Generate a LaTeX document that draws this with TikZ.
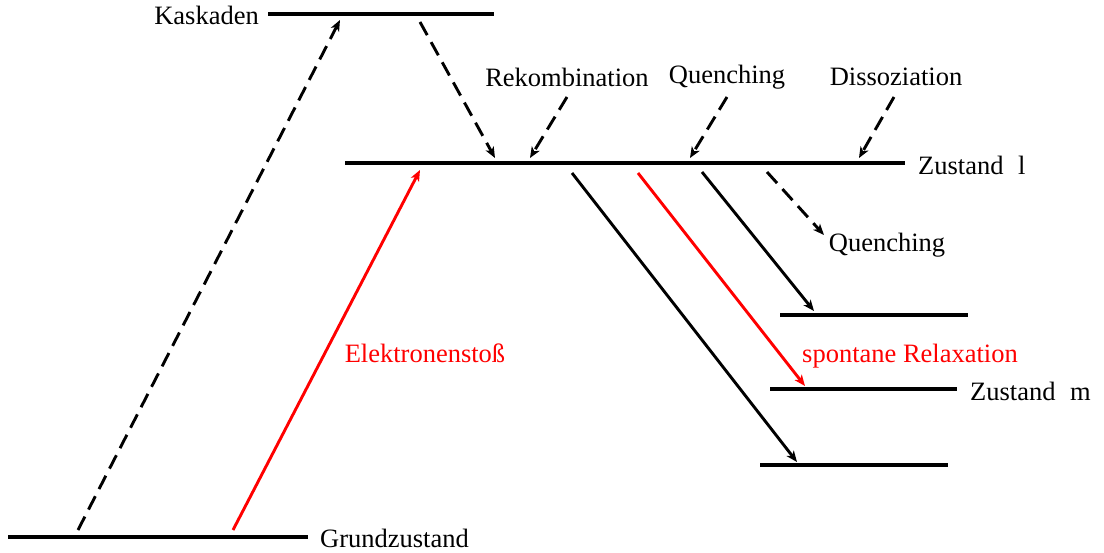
\documentclass[tikz,border=0pt]{standalone}
\usepackage{fontspec}
\setmainfont{Liberation Serif}
\usetikzlibrary{arrows.meta}
\definecolor{lred}{RGB}{255,0,0}
\tikzset{
  level/.style={line width=3.4pt},
  trans/.style={line width=2.9pt,-{Stealth[length=11pt,width=9pt,inset=3pt]}},
  dsh/.style={trans,dash pattern=on 15pt off 8pt},
  lbl/.style={inner sep=0pt,font=\fontsize{26.5}{30}\selectfont},
}
\begin{document}
\begin{tikzpicture}[x=1pt,y=-1pt]
\useasboundingbox (0,0) rectangle (1104,553);
% levels
\draw[level] (268,14) -- (494,14);
\draw[level] (345,163) -- (905,163);
\draw[level] (780,315) -- (968,315);
\draw[level] (770,389) -- (957,389);
\draw[level] (760,465) -- (948,465);
\draw[level] (8,537) -- (308,537);
% labels
\node[lbl,anchor=east] (kas) at (259,15) {Kaskaden};
\node[lbl,anchor=west] (zl) at (918,165) {Zustand\hspace{0.55em}l};
\node[lbl,anchor=west] (zm) at (970,391) {Zustand\hspace{0.55em}m};
\node[lbl,anchor=west] (gz) at (320,538) {Grundzustand};
\node[lbl] (rek) at (567,77) {Rekombination};
\node[lbl] (que1) at (727,77) {Quenching};
\node[lbl] (dis) at (896,77) {Dissoziation};
\node[lbl] (que2) at (887,245) {Quenching};
\node[lbl,text=lred] (el) at (425,353) {Elektronenstoß};
\node[lbl,text=lred] (sr) at (910,356) {spontane Relaxation};
% endpoints
\coordinate (a1) at (78,530); \coordinate (a2) at (340,20);
\coordinate (b1) at (420,22); \coordinate (b2) at (495,158);
\coordinate (c1) at (567,97); \coordinate (c2) at (530,158);
\coordinate (d1) at (727,97); \coordinate (d2) at (690,158);
\coordinate (e1) at (894,97); \coordinate (e2) at (859,158);
\coordinate (f1) at (233,530); \coordinate (f2) at (420,170);
\coordinate (g1) at (572,173); \coordinate (g2) at (797,462);
\coordinate (h1) at (638,173); \coordinate (h2) at (805,386);
\coordinate (i1) at (702,172); \coordinate (i2) at (814,311);
\coordinate (j1) at (767,172); \coordinate (j2) at (824,235);
% transitions
\draw[dsh] (a1) -- (a2);
\draw[dsh] (b1) -- (b2);
\draw[dsh] (c1) -- (c2);
\draw[dsh] (d1) -- (d2);
\draw[dsh] (e1) -- (e2);
\draw[trans,lred] (f1) -- (f2);
\draw[trans] (g1) -- (g2);
\draw[trans,lred] (h1) -- (h2);
\draw[trans] (i1) -- (i2);
\draw[dsh] (j1) -- (j2);
\end{tikzpicture}
\end{document}
